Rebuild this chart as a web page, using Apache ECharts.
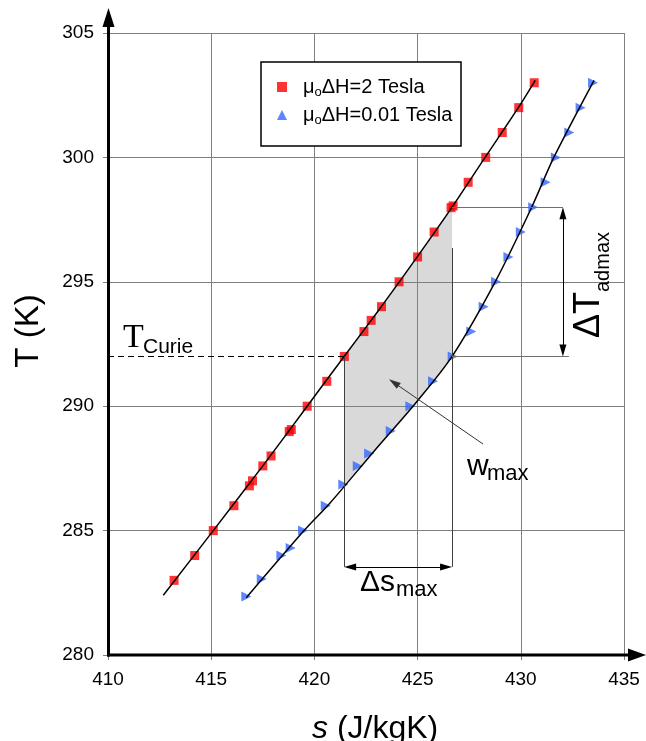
<!DOCTYPE html>
<html><head><meta charset="utf-8">
<script src="https://cdn.jsdelivr.net/npm/echarts@6/dist/echarts.min.js"></script>
<style>html,body{margin:0;padding:0;background:#fff}#c{width:646px;height:741px}</style>
</head><body><div id="c"></div>
<script>
// ---- data ----
const redS  = [413.2,414.2,415.1,416.1,416.85,417.0,417.5,417.9,418.78,418.88,419.65,420.6,421.45,422.4,422.75,423.25,424.1,425.0,425.8,426.62,426.72,427.45,428.3,429.1,429.9,430.65];
const redT  = [283.0,284.0,285.0,286.0,286.8,287.0,287.6,288.0,288.98,289.06,290.0,291.0,292.0,293.0,293.45,294.0,295.0,296.0,297.0,297.98,298.05,299.0,300.0,301.0,302.0,303.0];
const blueS = [416.7,417.45,418.4,418.85,419.45,420.55,421.4,422.1,422.65,423.7,424.65,425.75,426.7,427.6,428.2,428.8,429.4,430.0,430.6,431.2,431.7,432.35,432.9,433.5];
const blueT = [282.35,283.05,284.0,284.3,285.0,286.0,286.85,287.6,288.1,289.0,290.0,291.0,292.0,293.0,294.0,295.0,296.0,297.0,298.0,299.0,300.0,301.0,302.0,303.0];
const redCurveS  = [412.68,415.1,417.5,419.65,421.44,423.24,424.98,426.67,428.27,429.88,430.7];
const redCurveT  = [282.4,285.0,287.6,290.0,292.0,294.0,296.0,298.0,300.0,302.0,303.1];
const blueCurveS = [416.7,419.5,420.77,422.9,424.97,426.67,428.76,430.53,431.6,433.55];
const blueCurveT = [282.3,285.0,286.12,288.2,290.19,292.0,295.0,298.0,300.0,303.1];
const wRegion = [[421.44,292.0],[423.24,294.0],[424.98,296.0],[426.67,298.0],[426.67,292.0],[424.97,290.19],[422.9,288.2],[421.44,286.77]];
const xMin = 410, xMax = 435, xStep = 5;
const yMin = 280, yMax = 305, yStep = 5;
const nameRed = 'μoΔH=2 Tesla', nameBlue = 'μoΔH=0.01 Tesla';

const zip = (a, b) => a.map((v, i) => [v, b[i]]);
const FONT = 'Liberation Sans';
const chart = echarts.init(document.getElementById('c'), null, {renderer: 'canvas'});

const arrowEnd = (c) => ({coord: c, symbol: 'triangle', symbolSize: [7, 12]});
const plain = (c, extra) => Object.assign({coord: c, symbol: 'none'}, extra || {});

const option = {
  animation: false,
  backgroundColor: '#fff',
  grid: {left: 108, right: 22, top: 33, bottom: 86, containLabel: false},
  xAxis: {
    type: 'value', min: xMin, max: xMax, interval: xStep,
    axisLine: {show: false},
    axisTick: {show: true, length: 5, lineStyle: {color: '#808080'}},
    axisLabel: {margin: 15, fontSize: 19, fontFamily: FONT, color: '#000'},
    splitLine: {show: true, lineStyle: {color: '#808080', width: 1}}
  },
  yAxis: {
    type: 'value', min: yMin, max: yMax, interval: yStep,
    axisLine: {show: false},
    axisTick: {show: true, length: 5, lineStyle: {color: '#808080'}},
    axisLabel: {margin: 14, fontSize: 19, fontFamily: FONT, color: '#000'},
    splitLine: {show: true, lineStyle: {color: '#808080', width: 1}}
  },
  legend: {
    data: [nameRed, {name: nameBlue, icon: 'triangle'}],
    orient: 'vertical', left: 277, top: 77, padding: 0,
    itemWidth: 10, itemHeight: 10, itemGap: 6,
    symbolRotate: 0, selectedMode: false, z: 5,
    formatter: n => (n === nameRed ? '{sp| }{m|μ}{o|o}{m|ΔH=2 Tesla}' : '{sp| }{m|μ}{o|o}{m|ΔH=0.01 Tesla}'),
    textStyle: {
      rich: {
        sp: {width: 11},
        m: {fontSize: 20, fontFamily: FONT, lineHeight: 24, color: '#000'},
        o: {fontSize: 13, fontFamily: FONT, lineHeight: 20, verticalAlign: 'bottom', color: '#000'}
      }
    }
  },
  series: [
    {
      type: 'custom', silent: true, z: 1,
      data: [wRegion[0]],
      renderItem: (p, api) => ({
        type: 'polygon',
        shape: {points: wRegion.map(q => api.coord(q))},
        style: {fill: 'rgba(128,128,128,0.3)'}
      })
    },
    {
      name: nameRed, type: 'scatter', z: 3, symbol: 'rect', symbolSize: 9,
      itemStyle: {color: '#ff0000'},
      data: zip(redS, redT)
    },
    {
      name: nameBlue, type: 'scatter', z: 3, symbol: 'triangle', symbolRotate: -90, symbolSize: 10,
      itemStyle: {color: '#3366ff'},
      data: zip(blueS, blueT)
    },
    {
      name: 'fit2', type: 'line', z: 4, smooth: 0.3, showSymbol: false, silent: true,
      lineStyle: {color: '#000', width: 1.5},
      data: zip(redCurveS, redCurveT),
      markLine: {
        silent: true, animation: false, symbol: ['none', 'none'],
        label: {show: false},
        lineStyle: {color: '#000', width: 1, type: 'solid'},
        emphasis: {disabled: true},
        data: [
          [plain([410, 292], {lineStyle: {type: [6, 4], color: '#000', width: 1}}), plain([421.44, 292])],
          [plain([421.44, 292], {lineStyle: {color: '#404040', width: 1}}), plain([421.44, 283.54])],
          [plain([426.67, 296.36], {lineStyle: {color: '#404040', width: 1}}), plain([426.67, 283.54])],
          [plain([426.67, 298], {lineStyle: {color: '#707070', width: 1}}), plain([432.04, 298])],
          [plain([426.67, 292], {lineStyle: {color: '#707070', width: 1}}), plain([432.33, 292])],
          [arrowEnd([432.04, 292.24]), arrowEnd([432.04, 297.76])],
          [arrowEnd([421.73, 283.54]), arrowEnd([426.38, 283.54])],
          [plain([428.17, 288.48], {lineStyle: {color: '#333', width: 1}}), arrowEnd([423.85, 290.95])]
        ]
      }
    },
    {
      name: 'fit001', type: 'line', z: 4, smooth: 0.3, showSymbol: false, silent: true,
      lineStyle: {color: '#000', width: 1.5},
      data: zip(blueCurveS, blueCurveT)
    }
  ],
  graphic: [
    {type: 'rect', z: 2, shape: {x: 261, y: 62, width: 200, height: 84}, style: {fill: '#fff', stroke: '#000', lineWidth: 1.5}},
    {type: 'line', z: 10, shape: {x1: 108.5, y1: 656.5, x2: 108.5, y2: 24}, style: {stroke: '#000', lineWidth: 3}},
    {type: 'polygon', z: 10, shape: {points: [[108.5, 8], [102.5, 27], [114.5, 27]]}, style: {fill: '#000'}},
    {type: 'line', z: 10, shape: {x1: 107, y1: 655, x2: 630, y2: 655}, style: {stroke: '#000', lineWidth: 3}},
    {type: 'polygon', z: 10, shape: {points: [[646, 655], [628, 648.5], [628, 661.5]]}, style: {fill: '#000'}},
    {type: 'text', z: 10, x: 28.6, y: 331, rotation: Math.PI / 2,
      style: {text: 'T (K)', fontSize: 33, fontFamily: FONT, fill: '#000', align: 'center', verticalAlign: 'middle'}},
    {type: 'text', z: 10, x: 312, y: 729,
      style: {text: '{i|s}{n| (J/kgK)}', align: 'left', verticalAlign: 'middle',
        rich: {i: {fontSize: 32, fontFamily: FONT, fontStyle: 'italic', fill: '#000'}, n: {fontSize: 32, fontFamily: FONT, fill: '#000'}}}},
    {type: 'text', z: 10, x: 123, y: 338.5,
      style: {text: 'T', fontSize: 34, fontFamily: 'Liberation Serif', fill: '#000', align: 'left', verticalAlign: 'middle'}},
    {type: 'text', z: 10, x: 143, y: 347.7,
      style: {text: 'Curie', fontSize: 21, fontFamily: FONT, fill: '#000', align: 'left', verticalAlign: 'middle'}},
    {type: 'text', z: 10, x: 467, y: 466.6,
      style: {text: 'w', fontSize: 30, fontFamily: FONT, fill: '#000', align: 'left', verticalAlign: 'middle'}},
    {type: 'text', z: 10, x: 487, y: 474.4,
      style: {text: 'max', fontSize: 22, fontFamily: FONT, fill: '#000', align: 'left', verticalAlign: 'middle'}},
    {type: 'text', z: 10, x: 360, y: 582.6,
      style: {text: 'Δs', fontSize: 30, fontFamily: FONT, fill: '#000', align: 'left', verticalAlign: 'middle'}},
    {type: 'text', z: 10, x: 396, y: 590.4,
      style: {text: 'max', fontSize: 22, fontFamily: FONT, fill: '#000', align: 'left', verticalAlign: 'middle'}},
    {type: 'text', z: 10, x: 589.5, y: 338, rotation: Math.PI / 2,
      style: {text: 'ΔT', fontSize: 36, fontFamily: FONT, fill: '#000', align: 'left', verticalAlign: 'middle'}},
    {type: 'text', z: 10, x: 603.1, y: 292, rotation: Math.PI / 2,
      style: {text: 'admax', fontSize: 20, fontFamily: FONT, fill: '#000', align: 'left', verticalAlign: 'middle'}}
  ]
};
chart.setOption(option);
</script>
</body></html>
